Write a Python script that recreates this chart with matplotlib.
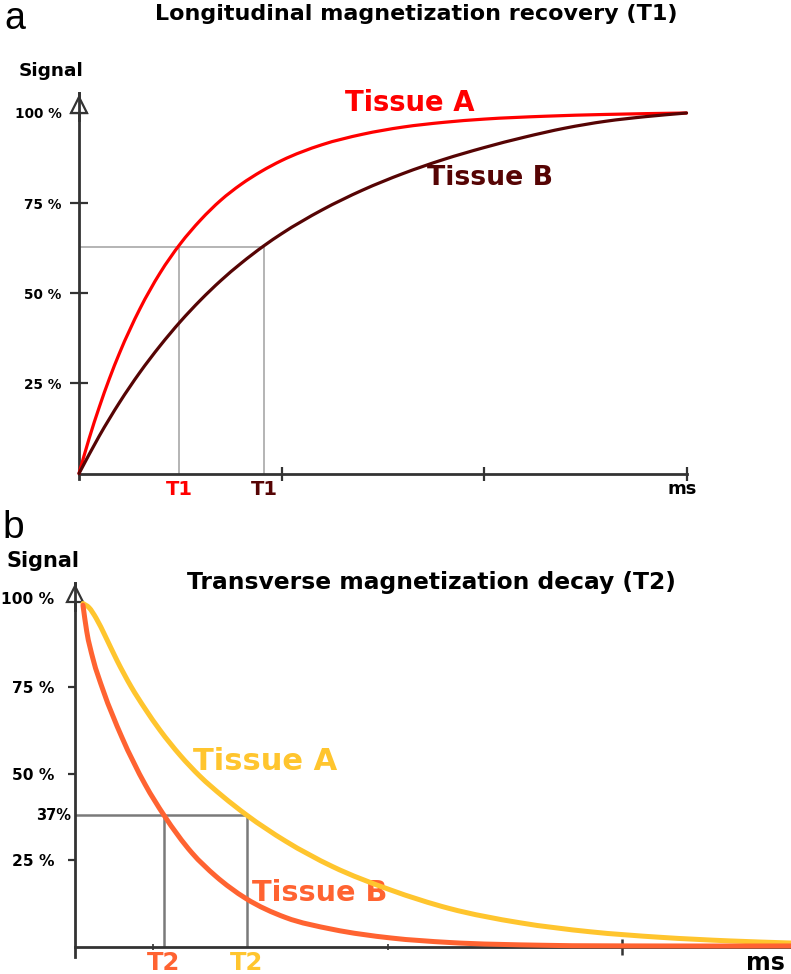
import numpy as np
import matplotlib
matplotlib.use("Agg")
import matplotlib.pyplot as plt
from matplotlib.path import Path
from matplotlib.patches import PathPatch

W, H = 791, 974

# ---------------- data ----------------
# Panel a: longitudinal recovery, x in tick units (3 ticks), y in %
t1_x_a = [0, 0.05, 0.1, 0.15, 0.2, 0.3, 0.4, 0.5, 0.6, 0.7, 0.8, 0.9, 1.0, 1.2,
          1.4, 1.6, 1.8, 2.0, 2.3, 2.6, 3.0]
t1_tissueA = [0, 9.7, 18.4, 26.3, 33.4, 45.6, 55.6, 63.7, 70.3, 75.8, 80.2,
              83.8, 86.8, 91.2, 94.1, 96.1, 97.4, 98.3, 99.1, 99.6, 100]
t1_x_b = [0, 0.1, 0.2, 0.3, 0.4, 0.5, 0.6, 0.7, 0.8, 0.914, 1.0, 1.2, 1.4,
          1.6, 1.8, 2.0, 2.2, 2.4, 2.6, 2.8, 3.0]
t1_tissueB = [0, 10.4, 19.7, 28.0, 35.4, 42.1, 48.1, 53.5, 58.3, 63.2, 66.5,
              73.1, 78.6, 83.2, 87.1, 90.4, 93.3, 95.8, 97.7, 99.0, 100]
t1_values = [0.494, 0.914]      # T1 of tissue A, tissue B
t1_level = 62.8                 # 63 %

# Panel b: transverse decay
t2_x_a = [0.034, 0.06, 0.09, 0.13, 0.18, 0.24, 0.3, 0.363, 0.45, 0.534, 0.63,
          0.734, 0.9, 1.1, 1.346, 1.6, 1.9, 2.2, 2.5, 2.8, 3.06]
t2_tissueA = [99, 97.8, 94.8, 89.5, 82.5, 75, 68.6, 62.5, 55.2, 49.2, 43.5,
              38, 30.5, 23.2, 16.5, 11.1, 7.0, 4.4, 2.8, 1.75, 1.15]
t2_x_b = [0.034, 0.05, 0.077, 0.12, 0.2, 0.3, 0.38, 0.5, 0.6, 0.73, 0.9, 1.1,
          1.35, 1.6, 2.0, 2.5, 3.06]
t2_tissueB = [98.5, 91, 83, 74, 60.5, 46.8, 38, 27.1, 20.5, 14.0, 8.5, 5.1,
              2.6, 1.3, 0.5, 0.3, 0.3]
t2_values = [0.38, 0.734]       # T2 of tissue B, tissue A
t2_level = 38

yticks_a = [25, 50, 75, 100]
ytick_labels_a = ["25 %", "50 %", "75 %", "100 %"]
yticks_b = [25, 50, 75]
ytick_labels_b = ["25 %", "50 %", "75 %"]

RED = "#ff0000"
MAROON = "#560404"
YELLOW = "#ffc52e"
ORANGE = "#ff6331"
AXC = "#333333"

BOLD = dict(family="DejaVu Sans", fontweight="bold")

fig = plt.figure(figsize=(W / 100, H / 100), dpi=100)


def ax_px(x0, x1, ytop, ybot):
    return fig.add_axes([x0 / W, 1 - ybot / H, (x1 - x0) / W, (ybot - ytop) / H])


def ftext(x, y, s, **kw):
    fig.text(x / W, 1 - y / H, s, **kw)


def setup(ax, xmax):
    ax.set_xlim(0, xmax)
    ax.set_ylim(0, 100)
    for sp in ax.spines.values():
        sp.set_visible(False)
    ax.patch.set_alpha(0)


def smooth_line(ax, xs, ys, **kw):
    """Draw a smooth line (cubic Hermite as Bezier) through the read points."""
    x = np.asarray(xs, float)
    y = np.asarray(ys, float)
    n = len(x)
    h = np.diff(x)
    d = np.diff(y) / h
    m = np.empty(n)
    m[0], m[-1] = d[0], d[-1]
    for i in range(1, n - 1):
        m[i] = (d[i] * h[i - 1] + d[i - 1] * h[i]) / (h[i - 1] + h[i])
    verts = [(x[0], y[0])]
    codes = [Path.MOVETO]
    for i in range(n - 1):
        verts += [(x[i] + h[i] / 3, y[i] + m[i] * h[i] / 3),
                  (x[i + 1] - h[i] / 3, y[i + 1] - m[i + 1] * h[i] / 3),
                  (x[i + 1], y[i + 1])]
        codes += [Path.CURVE4] * 3
    patch = PathPatch(Path(verts, codes), fill=False, capstyle="round", **kw)
    patch.set_clip_on(False)
    ax.add_patch(patch)


# ---------------- Panel a ----------------
axA = ax_px(79, 686.5, 113, 473.5)
setup(axA, 3.0)
axA.plot([0, t1_values[1]], [t1_level, t1_level], color="#a8a8a8", lw=1.2, zorder=1)
for tv in t1_values:
    axA.plot([tv, tv], [0, t1_level], color="#a8a8a8", lw=1.2, zorder=1)
axA.plot([0, 3.0], [0, 0], color=AXC, lw=2.0, clip_on=False, zorder=2)
axA.plot([0, 0], [-1.5, 105.5], color=AXC, lw=2.0, clip_on=False, zorder=2)
axA.plot([0], [102.2], marker="^", ms=12, mfc="white", mec=AXC, mew=1.6,
         clip_on=False, zorder=3)
axA.plot([0, 0], [98, 105.5], color=AXC, lw=2.0, clip_on=False, zorder=4)
smooth_line(axA, t1_x_a, t1_tissueA, edgecolor=RED, lw=2.3, zorder=5)
smooth_line(axA, t1_x_b, t1_tissueB, edgecolor=MAROON, lw=2.3, zorder=5)
axA.set_yticks(yticks_a)
axA.set_yticklabels(ytick_labels_a, fontsize=9.8, **BOLD)
axA.tick_params(axis="y", direction="inout", length=13, width=1.6, color=AXC, pad=6)
axA.set_xticks([1, 2, 3])
axA.set_xticklabels([])
axA.tick_params(axis="x", direction="inout", length=10, width=1.6, color=AXC)
axA.text(1.635, 102.8, "Tissue A", color=RED, fontsize=19.8, ha="center",
         va="center", **BOLD)
axA.text(2.03, 82, "Tissue B", color=MAROON, fontsize=19.3, ha="center",
         va="center", **BOLD)
axA.text(t1_values[0], -4.4, "T1", color=RED, fontsize=14, ha="center",
         va="center", clip_on=False, **BOLD)
axA.text(t1_values[1], -4.4, "T1", color=MAROON, fontsize=14, ha="center",
         va="center", clip_on=False, **BOLD)
axA.text(2.98, -4.4, "ms", color="black", fontsize=13, ha="center",
         va="center", clip_on=False, **BOLD)

ftext(416, 14, "Longitudinal magnetization recovery (T1)", fontsize=16,
      ha="center", va="center", **BOLD)
ftext(51, 71, "Signal", fontsize=13.3, ha="center", va="center", **BOLD)
ftext(4, 19, "a", fontsize=27, ha="left", va="center", family="Liberation Sans")

# ---------------- Panel b ----------------
axB = ax_px(75, 791, 600, 947)
setup(axB, 716 / 234)
axB.plot([0, t2_values[1]], [t2_level, t2_level], color="#7a7a7a", lw=1.8, zorder=1)
for tv in t2_values:
    axB.plot([tv, tv], [0, t2_level], color="#7a7a7a", lw=1.8, zorder=1)
axB.plot([0, 716 / 234], [0, 0], color=AXC, lw=2.0, clip_on=False, zorder=2)
axB.plot([0, 0], [-2.8, 105], color=AXC, lw=2.0, clip_on=False, zorder=2)
axB.plot([0], [101.8], marker="^", ms=12, mfc="white", mec=AXC, mew=1.6,
         clip_on=False, zorder=3)
axB.plot([0, 0], [97, 105], color=AXC, lw=2.0, clip_on=False, zorder=4)
smooth_line(axB, t2_x_a, t2_tissueA, edgecolor=YELLOW, lw=3.6, zorder=5)
smooth_line(axB, t2_x_b, t2_tissueB, edgecolor=ORANGE, lw=3.6, zorder=6)
axB.set_yticks(yticks_b)
axB.set_yticklabels(ytick_labels_b, fontsize=11.2, **BOLD)
axB.tick_params(axis="y", direction="out", length=5, width=1.6, color=AXC, pad=10)
axB.set_xticks([0.333, 1.338, 2.338])
axB.set_xticklabels([])
axB.tick_params(axis="x", direction="inout", length=4, width=1.2, color=AXC)
axB.xaxis.get_major_ticks()[2].tick1line.set_markersize(12)
axB.xaxis.get_major_ticks()[2].tick1line.set_markeredgewidth(1.8)
axB.text(-0.09, 100, "100 %", fontsize=11.2, ha="right", va="center",
         clip_on=False, **BOLD)
axB.text(-0.015, t2_level, "37%", fontsize=10.5, ha="right", va="center",
         clip_on=False, **BOLD)
axB.text(0.812, 53.5, "Tissue A", color=YELLOW, fontsize=22, ha="center",
         va="center", **BOLD)
axB.text(1.047, 15.6, "Tissue B", color=ORANGE, fontsize=20.7, ha="center",
         va="center", **BOLD)
axB.text(t2_values[0], -4.6, "T2", color=ORANGE, fontsize=17.5, ha="center",
         va="center", clip_on=False, **BOLD)
axB.text(t2_values[1], -4.6, "T2", color=YELLOW, fontsize=17.5, ha="center",
         va="center", clip_on=False, **BOLD)
axB.text(2.95, -4.6, "ms", color="black", fontsize=17, ha="center",
         va="center", clip_on=False, **BOLD)

ftext(431, 582, "Transverse magnetization decay (T2)", fontsize=16.8,
      ha="center", va="center", **BOLD)
ftext(43, 561, "Signal", fontsize=15, ha="center", va="center", **BOLD)
ftext(2, 528, "b", fontsize=28, ha="left", va="center", family="Liberation Sans")

fig.savefig("out.png", dpi=100, facecolor="white")
